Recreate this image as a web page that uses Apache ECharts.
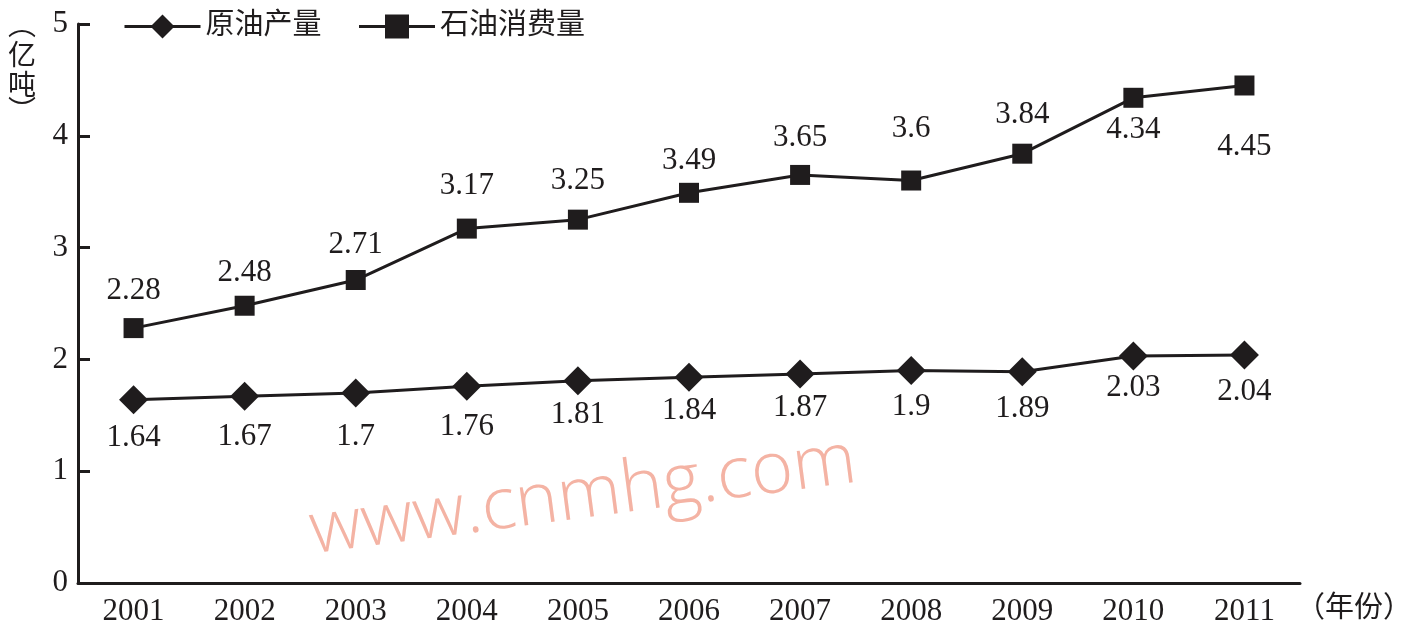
<!DOCTYPE html>
<html><head><meta charset="utf-8">
<script src="https://cdn.jsdelivr.net/npm/echarts@6/dist/echarts.min.js"></script>
<style>html,body{margin:0;padding:0;background:#fff}#c{width:1408px;height:632px}</style>
</head><body><div id="c"></div>
<script>
const years = ['2001','2002','2003','2004','2005','2006','2007','2008','2009','2010','2011'];
const production = [1.64,1.67,1.7,1.76,1.81,1.84,1.87,1.9,1.89,2.03,2.04];
const consumption = [2.28,2.48,2.71,3.17,3.25,3.49,3.65,3.6,3.84,4.34,4.45];
const yTicks = [0,1,2,3,4,5];

// label vertical offsets (pixels from the point), styling only
const prodLabelDy = [38,41,44,41,34,34,34,36,37,32,37];
const consLabelDy = [-37,-33,-35,-43,-39,-32,-37,-52,-39,32,61];

const FONT = "'Liberation Serif','Noto Sans CJK SC',serif";
const CJK = "'Noto Sans CJK SC',sans-serif";
const INK = '#1f1c1d';

function items(vals, dys){
  return vals.map((v,i)=>({value:v,label:{offset:[0,dys[i]]}}));
}
function unitChar(ch, y){
  return {type:'text',x:22,y:y,style:{text:ch,fontFamily:CJK,fontSize:28,fill:INK,align:'center',verticalAlign:'middle'}};
}

const chart = echarts.init(document.getElementById('c'));
chart.setOption({
  animation:false,
  backgroundColor:'#fff',
  grid:{left:78,right:108,top:24,bottom:49,containLabel:false},
  legend:{
    left:118, top:7, itemWidth:76, itemHeight:30, itemGap:36,
    lineStyle:{width:3,color:INK},
    textStyle:{fontFamily:FONT,fontSize:29,color:INK},
    data:['原油产量','石油消费量']
  },
  xAxis:{
    type:'category', data:years, boundaryGap:true,
    axisLine:{lineStyle:{color:INK,width:3}},
    axisTick:{inside:true,length:12,lineStyle:{color:INK,width:3}},
    axisLabel:{fontFamily:FONT,fontSize:31,color:INK,margin:13}
  },
  yAxis:{
    type:'value', min:yTicks[0], max:yTicks[yTicks.length-1], interval:1,
    splitLine:{show:false},
    axisLine:{show:true,lineStyle:{color:INK,width:3}},
    axisTick:{show:true,inside:true,length:12,lineStyle:{color:INK,width:3}},
    axisLabel:{fontFamily:FONT,fontSize:31,color:INK,margin:10}
  },
  graphic:[
    unitChar('︵', 24),
    unitChar('亿', 54),
    unitChar('吨', 84),
    unitChar('︶', 110),
    {type:'text',left:1296,top:591,style:{text:'（年份）',fontFamily:CJK,fontSize:29,fill:INK}},
    {type:'text',x:583,y:497,rotation:7.5*Math.PI/180,style:{text:'www.cnmhg.com',fontFamily:"'Open Sans',sans-serif",fontWeight:300,fontSize:72,fill:'#f4b3a4',align:'center',verticalAlign:'middle'},z:0}
  ],
  series:[
    {
      name:'原油产量', type:'line', data:items(production,prodLabelDy),
      symbol:'diamond', symbolSize:29,
      lineStyle:{color:INK,width:3}, itemStyle:{color:INK},
      label:{show:true,position:'inside',fontFamily:FONT,fontSize:31,color:INK},
      z:3
    },
    {
      name:'石油消费量', type:'line', data:items(consumption,consLabelDy),
      symbol:'rect', symbolSize:20,
      lineStyle:{color:INK,width:3}, itemStyle:{color:INK},
      label:{show:true,position:'inside',fontFamily:FONT,fontSize:31,color:INK},
      z:3
    }
  ]
});
</script></body></html>
